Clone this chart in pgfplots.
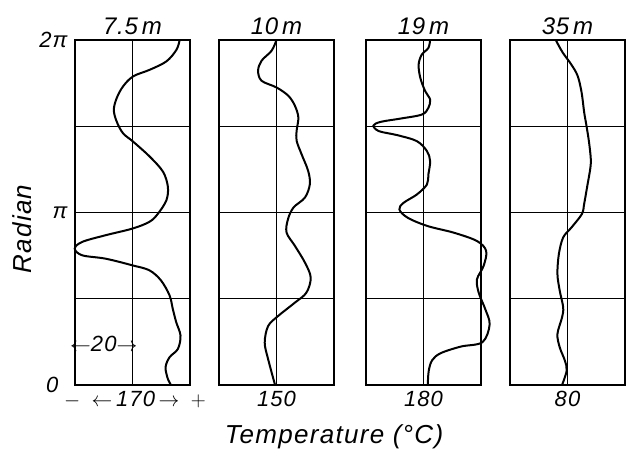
\documentclass[border=0pt]{standalone}
\usepackage{fontspec}
\setmainfont{Liberation Sans}
\usepackage{pgfplots}
\pgfplotsset{compat=1.18}
\newcommand{\lab}{\fontsize{22}{24}\selectfont\itshape\addfontfeatures{LetterSpace=5}}
\newcommand{\ttl}{\fontsize{24}{26}\selectfont\itshape\addfontfeatures{LetterSpace=3}}
\newcommand{\biglab}{\fontsize{26}{28}\selectfont\itshape\addfontfeatures{LetterSpace=5}}
\pgfplotsset{
  panel/.style={
    scale only axis, width=115pt, height=345pt,
    ymin=0, ymax=6.2832,
    ytick={0,1.5708,3.1416,4.7124,6.2832},
    yticklabels={},
    xmajorgrids, ymajorgrids,
    grid style={black, line width=1pt},
    axis line style={line width=1.4pt},
    major tick length=0pt,
    tick label style={font=\lab},
    xticklabel style={yshift=-3pt},
    title style={font=\ttl, yshift=-4pt},
    clip=false,
    anchor=south west,
  },
  curve/.style={black, line width=2pt, smooth, tension=0.55, mark=none},
}
\begin{document}
\begin{tikzpicture}
\path[use as bounding box] (0,0) rectangle (626pt,452pt);
% 7.5 m
\begin{axis}[panel, at={(75pt,67pt)}, xmin=150, xmax=190, xtick={170},
  xticklabels={{\hspace{3pt}$-\;\leftarrow$\,170\,$\rightarrow\;+$}},
  xticklabel style={xshift=1pt},
  yticklabels={{\llap{0\hspace{9pt}}},,π,,2π}, yticklabel style={xshift=-4pt},
  title={7.5\,m}]
\addplot[curve] coordinates {
(186.4,6.2832) (185.3,6.106) (181.8,5.894) (176.0,5.741) (170.2,5.620)
(166.7,5.437) (164.5,5.224) (163.5,5.010) (164.5,4.798) (166.7,4.585)
(170.2,4.433) (176.0,4.159) (180.6,3.885) (182.3,3.611) (181.8,3.366)
(178.9,3.123) (175.9,2.972) (170.0,2.849) (160.6,2.727) (152.5,2.606)
(149.9,2.484) (152.5,2.362) (160.6,2.301) (170.0,2.179) (175.9,2.088)
(179.9,1.905) (182.9,1.631) (184.0,1.388) (185.2,1.145) (186.7,0.900)
(185.8,0.658) (182.9,0.506) (181.5,0.323) (182.3,0.110) (183.4,0)
};
\node[font=\lab] at (axis cs:160,0.74) {$\leftarrow$20$\rightarrow$};
\end{axis}
% 10 m
\begin{axis}[panel, at={(219pt,67pt)}, xmin=130, xmax=170, xtick={150},
  xticklabels={150}, title={10\,m}]
\addplot[curve] coordinates {
(150.0,6.2832) (148.3,6.088) (144.8,5.906) (143.6,5.724) (144.8,5.541)
(150.0,5.419) (154.1,5.268) (156.4,5.086) (157.6,4.872) (157.0,4.630)
(157.0,4.448) (158.7,4.205) (161.0,3.901) (161.6,3.658) (159.9,3.414)
(155.9,3.232) (154.0,3.020) (153.5,2.776) (156.4,2.534) (159.9,2.229)
(161.9,1.956) (160.4,1.682) (156.4,1.500) (150.6,1.258) (147.1,1.075)
(145.9,0.771) (147.1,0.468) (149.5,0)
};
\end{axis}
% 19 m
\begin{axis}[panel, at={(366pt,67pt)}, xmin=160, xmax=200, xtick={180},
  xticklabels={180}, title={19\,m}]
\addplot[curve] coordinates {
(182.3,6.2832) (181.7,6.138) (179.4,6.016) (178.3,5.834) (178.9,5.592)
(180.6,5.350) (182.3,5.198) (181.7,5.047) (179.4,4.925) (172.0,4.852)
(165.1,4.792) (162.6,4.725) (164.5,4.623) (170.9,4.550) (177.7,4.441)
(181.2,4.259) (182.3,4.077) (181.7,3.834) (181.2,3.652) (177.7,3.470)
(173.1,3.319) (171.6,3.197) (174.5,3.046) (181.4,2.895) (190.6,2.773)
(198.6,2.622) (201.8,2.441) (200.9,2.168) (198.6,1.924) (199.2,1.682)
(201.5,1.379) (203.0,1.100) (200.5,0.780) (193.0,0.700) (186.0,0.580)
(183.0,0.450) (181.8,0.250) (181.5,0)
};
\end{axis}
% 35 m
\begin{axis}[panel, at={(510pt,67pt)}, xmin=60, xmax=100, xtick={80},
  xticklabels={80}, title={35\,m}]
\addplot[curve] coordinates {
(75.9,6.2832) (78.3,6.057) (81.2,5.846) (83.5,5.633) (84.9,5.329)
(85.8,4.965) (86.6,4.722) (87.5,4.418) (88.1,4.116) (87.9,3.934)
(86.9,3.630) (85.8,3.300) (85.0,3.114) (81.4,2.870) (78.5,2.688)
(77.0,2.386) (76.5,2.022) (77.3,1.717) (78.5,1.413) (78.1,1.231)
(76.5,0.929) (77.3,0.685) (79.1,0.443) (79.7,0.260) (78.1,0)
};
\end{axis}
\node[font=\biglab] at (334pt,15pt) {Temperature (°C)};
\node[font=\biglab, rotate=90] at (22pt,223pt) {Radian};
\end{tikzpicture}
\end{document}
